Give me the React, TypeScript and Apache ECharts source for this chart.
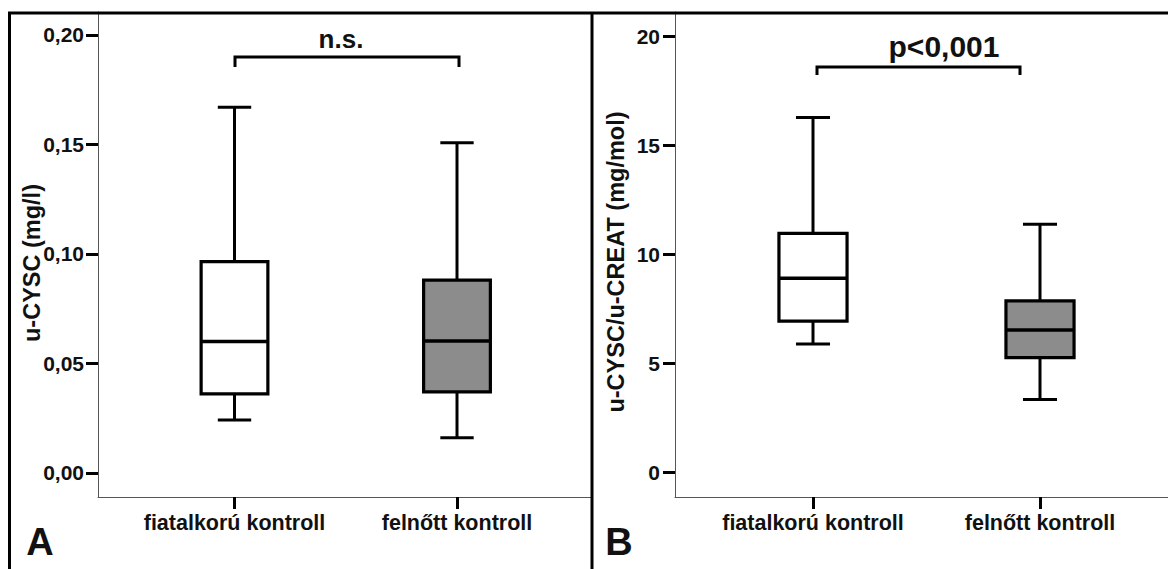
import React, { useEffect, useRef } from "react";
import * as echarts from "echarts";

// Groups shown on both panels
const categories = ["fiatalkorú kontroll", "felnőtt kontroll"];
const categoryPositions = [1, 2];

// Box statistics: [min, Q1, median, Q3, max]
const cyscBoxes = [
  [0.0242, 0.0361, 0.06, 0.0965, 0.167],
  [0.0161, 0.037, 0.0603, 0.0881, 0.1508],
];
const ratioBoxes = [
  [5.89, 6.94, 8.9, 10.96, 16.27],
  [3.35, 5.26, 6.53, 7.86, 11.37],
];

// Tick labels
const cyscTicks = [0, 0.05, 0.1, 0.15, 0.2];
const ratioTicks = [0, 5, 10, 15, 20];

const boxFills = ["#ffffff", "#8c8c8c"];
const FONT = "'Liberation Sans', Arial, Helvetica, sans-serif";

const renderBox = (params: any, api: any) => {
  const x = api.value(0);
  const lo = api.value(1);
  const q1 = api.value(2);
  const med = api.value(3);
  const q3 = api.value(4);
  const hi = api.value(5);
  const pLo = api.coord([x, lo]);
  const pQ1 = api.coord([x, q1]);
  const pMed = api.coord([x, med]);
  const pQ3 = api.coord([x, q3]);
  const pHi = api.coord([x, hi]);
  const half = api.size([0.3, 0])[0] / 2;
  const cap = api.size([0.15, 0])[0] / 2;
  const cx = pMed[0];
  const stroke = { stroke: "#000", lineWidth: 3 };
  return {
    type: "group",
    children: [
      { type: "line", shape: { x1: cx, y1: pQ3[1], x2: cx, y2: pHi[1] }, style: stroke },
      { type: "line", shape: { x1: cx, y1: pLo[1], x2: cx, y2: pQ1[1] }, style: stroke },
      { type: "line", shape: { x1: cx - cap, y1: pHi[1], x2: cx + cap, y2: pHi[1] }, style: stroke },
      { type: "line", shape: { x1: cx - cap, y1: pLo[1], x2: cx + cap, y2: pLo[1] }, style: stroke },
      {
        type: "rect",
        shape: { x: cx - half, y: pQ3[1], width: half * 2, height: pQ1[1] - pQ3[1] },
        style: { fill: boxFills[params.dataIndex], stroke: "#000", lineWidth: 3.2 },
      },
      { type: "line", shape: { x1: cx - half, y1: pMed[1], x2: cx + half, y2: pMed[1] }, style: { stroke: "#000", lineWidth: 3.5 } },
    ],
  };
};

const toRows = (boxes: number[][]) => boxes.map((b, i) => [categoryPositions[i], ...b]);

const xAxisFor = (gridIndex: number, min: number, max: number) => ({
  type: "value",
  gridIndex,
  min,
  max,
  splitLine: { show: false },
  axisLine: { show: true, onZero: false, lineStyle: { color: "#555", width: 1 } },
  axisTick: {
    show: true,
    customValues: categoryPositions,
    length: 12,
    lineStyle: { color: "#000", width: 3 },
  },
  axisLabel: {
    customValues: categoryPositions,
    formatter: (v: number) => categories[Math.round(v) - 1] ?? "",
    margin: 15,
    color: "#111",
    fontFamily: FONT,
    fontWeight: "bold",
    fontSize: 21.5,
  },
});

const yAxisFor = (
  gridIndex: number,
  min: number,
  max: number,
  ticks: number[],
  fmt: (v: number) => string,
  margin: number
) => ({
  type: "value",
  gridIndex,
  min,
  max,
  splitLine: { show: false },
  axisLine: { show: true, onZero: false, lineStyle: { color: "#555", width: 1 } },
  axisTick: { show: true, customValues: ticks, length: 12, lineStyle: { color: "#000", width: 3 } },
  axisLabel: {
    customValues: ticks,
    formatter: fmt,
    margin,
    color: "#111",
    fontFamily: FONT,
    fontWeight: "bold",
    fontSize: 21,
  },
});

export default function App() {
  const ref = useRef<HTMLDivElement>(null);

  useEffect(() => {
    if (!ref.current) return;
    const chart = echarts.init(ref.current, null, { renderer: "svg" });

    const textStyle = (size: number) => ({
      fill: "#111",
      fontFamily: FONT,
      fontWeight: "bold",
      fontSize: size,
      align: "center",
      verticalAlign: "middle",
    });
    const lineStyle = { stroke: "#000", lineWidth: 3, fill: "none" };

    chart.setOption({
      animation: false,
      backgroundColor: "#fff",
      grid: [
        { left: 98, top: 12, width: 494, height: 485 },
        { left: 675, top: 12, width: 493, height: 485 },
      ],
      xAxis: [xAxisFor(0, 0.38652, 2.60674), xAxisFor(1, 0.39207, 2.56388)],
      yAxis: [
        yAxisFor(0, -0.010959, 0.210502, cyscTicks, (v: number) => v.toFixed(2).replace(".", ","), 14),
        yAxisFor(1, -1.12257, 21.09966, ratioTicks, (v: number) => String(Math.round(v)), 15),
      ],
      series: [
        {
          type: "custom",
          xAxisIndex: 0,
          yAxisIndex: 0,
          renderItem: renderBox,
          encode: { x: 0, y: [1, 2, 3, 4, 5] },
          data: toRows(cyscBoxes),
        },
        {
          type: "custom",
          xAxisIndex: 1,
          yAxisIndex: 1,
          renderItem: renderBox,
          encode: { x: 0, y: [1, 2, 3, 4, 5] },
          data: toRows(ratioBoxes),
        },
      ],
      graphic: [
        // panel frame
        { type: "line", shape: { x1: 8, y1: 13, x2: 1168, y2: 13 }, style: lineStyle, z: 100 },
        { type: "line", shape: { x1: 9.5, y1: 12, x2: 9.5, y2: 569 }, style: lineStyle, z: 100 },
        { type: "line", shape: { x1: 592, y1: 12, x2: 592, y2: 569 }, style: lineStyle, z: 100 },
        // axis titles
        {
          type: "text",
          x: 32,
          y: 263,
          rotation: Math.PI / 2,
          style: { text: "u-CYSC (mg/l)", ...textStyle(23.5) },
        },
        {
          type: "text",
          x: 616,
          y: 262,
          rotation: Math.PI / 2,
          style: { text: "u-CYSC/u-CREAT (mg/mol)", ...textStyle(23.5) },
        },
        // significance brackets
        {
          type: "polyline",
          shape: { points: [[235, 67], [235, 57], [459, 57], [459, 67]] },
          style: lineStyle,
        },
        { type: "text", x: 341, y: 39, style: { text: "n.s.", ...textStyle(26) } },
        {
          type: "polyline",
          shape: { points: [[817, 75], [817, 67], [1020, 67], [1020, 75]] },
          style: lineStyle,
        },
        { type: "text", x: 944, y: 46, style: { text: "p<0,001", ...textStyle(30) } },
        // panel letters
        { type: "text", x: 40, y: 542, style: { text: "A", ...textStyle(38) } },
        { type: "text", x: 619, y: 542, style: { text: "B", ...textStyle(38) } },
      ],
    });

    return () => chart.dispose();
  }, []);

  return (
    <div
      ref={ref}
      style={{ position: "fixed", left: 0, top: 0, width: 1168, height: 569, background: "#fff" }}
    />
  );
}
